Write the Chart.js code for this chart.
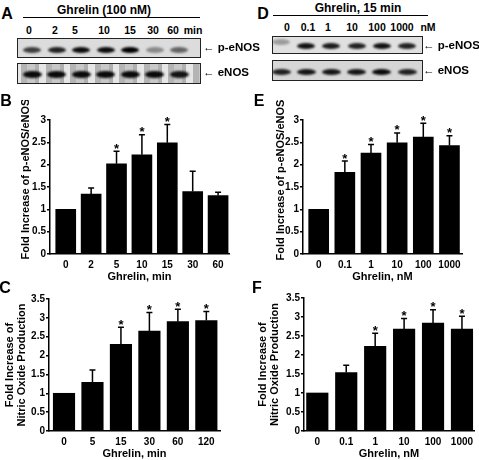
<!DOCTYPE html>
<html><head><meta charset="utf-8">
<script src="https://cdn.jsdelivr.net/npm/chart.js@4/dist/chart.umd.min.js"></script>
<style>
html,body{margin:0;padding:0;background:#fff;}
body{width:479px;height:460px;position:relative;overflow:hidden;font-family:"Liberation Sans",Arial,sans-serif;font-weight:bold;color:#000;}
.t{position:absolute;white-space:nowrap;transform:translate(-50%,-50%);line-height:1;}
.tl{position:absolute;white-space:nowrap;transform:translate(0,-50%);line-height:1;}
canvas{position:absolute;}
</style>
</head><body>
<canvas id="cB" width="240" height="183" style="left:0px;top:100px"></canvas>
<canvas id="cE" width="221" height="183" style="left:258px;top:100px"></canvas>
<canvas id="cC" width="240" height="177" style="left:0px;top:283px"></canvas>
<canvas id="cF" width="226" height="177" style="left:253px;top:283px"></canvas>
<script>
// ---------- data ----------
const timeCatsB = ['0','2','5','10','15','30','60'];
const pEnosTimeMean = [1.00, 1.34, 2.02, 2.22, 2.49, 1.40, 1.31];
const pEnosTimeSem  = [0.00, 0.14, 0.28, 0.45, 0.41, 0.45, 0.07];
const pEnosTimeSig  = [false, false, true, true, true, false, false];

const doseCats = ['0','0.1','1','10','100','1000'];
const pEnosDoseMean = [1.00, 1.83, 2.26, 2.49, 2.62, 2.43];
const pEnosDoseSem  = [0.00, 0.25, 0.19, 0.22, 0.31, 0.22];
const pEnosDoseSig  = [false, true, true, true, true, true];

const timeCatsC = ['0','5','15','30','60','120'];
const noTimeMean = [1.00, 1.29, 2.30, 2.65, 2.90, 2.93];
const noTimeSem  = [0.00, 0.33, 0.45, 0.49, 0.33, 0.24];
const noTimeSig  = [false, false, true, true, true, true];

const noDoseMean = [1.00, 1.54, 2.23, 2.68, 2.84, 2.68];
const noDoseSem  = [0.00, 0.19, 0.34, 0.28, 0.35, 0.34];
const noDoseSig  = [false, false, true, true, true, true];

const yTicksPE = [0, 0.5, 1, 1.5, 2, 2.5, 3];
const yTicksNO = [0, 0.5, 1, 1.5, 2, 2.5, 3, 3.5];

// blot band intensities (image texture)
const blotA_p = [0.72, 0.85, 0.95, 0.95, 1.0, 0.38, 0.55];
const blotA_e = [0.95, 0.95, 0.95, 0.95, 0.95, 0.95, 0.9];
const blotD_p = [0.3, 0.92, 0.88, 0.85, 0.92, 0.85];
const blotD_e = [0.85, 0.9, 0.9, 0.9, 0.95, 0.85];
const laneLabelsA = ['0','2','5','10','15','30','60','min'];
const laneLabelsD = ['0','0.1','1','10','100','1000','nM'];

// ---------- text / blots ----------
function txt(cls, x, y, s, size){
  const d=document.createElement('div'); d.className=cls;
  d.style.left=x+'px'; d.style.top=y+'px'; d.style.fontSize=size+'px'; d.textContent=s;
  document.body.appendChild(d);
}
function line(x1,x2,y){
  const d=document.createElement('div');
  d.style.cssText=`position:absolute;left:${x1}px;top:${y}px;width:${x2-x1}px;height:1px;background:#000`;
  document.body.appendChild(d);
}
function blot(left, top, w, h, bg, centers, bandY, bandW, bandH, alphas){
  const d=document.createElement('div');
  d.style.cssText=`position:absolute;left:${left}px;top:${top}px;width:${w}px;height:${h}px;background:${bg};border:1.5px solid #222;box-sizing:border-box;overflow:hidden`;
  centers.forEach((c,i)=>{
    const e=document.createElement('div');
    const by = Array.isArray(bandY)? bandY[i] : bandY;
    e.style.cssText=`position:absolute;left:${c-bandW/2-left}px;top:${by-bandH/2-top}px;width:${bandW}px;height:${bandH}px;background:rgba(0,0,0,${alphas[i]});border-radius:50%;filter:blur(0.8px)`;
    d.appendChild(e);
  });
  document.body.appendChild(d);
}
// panel letters
txt('t',7,14,'A',16); txt('t',263,14,'D',16);
txt('t',6,101,'B',16); txt('t',259,101,'E',16);
txt('t',5,288,'C',16); txt('t',257,288,'F',16);
// headers
txt('t',104,10,'Ghrelin (100 nM)',12); line(23,200,17);
txt('t',358,8,'Ghrelin, 15 min',12); line(273,428,15);
const laneXA=[29,55,75,104,130,153,173,193];
laneLabelsA.forEach((s,i)=>txt('t',laneXA[i],30,s,10.5));
const laneXD=[287,308,328,352,377,402,428];
laneLabelsD.forEach((s,i)=>txt('t',laneXD[i],27,s,10.5));
// blots
const centersA = blotA_p.map((_,i)=>31+i*24.5);
blot(17,38,184,20,'#dcdcdc',centersA,48.5,18,6,blotA_p);
blot(17,63,184,21,'repeating-linear-gradient(90deg,#e6e6e6 0 3px,#b4b4b4 3px 9px,#c8c8c8 9px 17px,#b0b0b0 17px 21px,#e6e6e6 21px 24.5px)',centersA,73.5,19,7,blotA_e);
const centersD = blotD_p.map((_,i)=>280+i*25.2);
blot(272,36,151,18,'#e0e0e0',centersD,[41,44.5,44.5,44.5,44.5,44.5],18,6,blotD_p);
blot(272,60,151,21,'#d6d6d6',centersD,70.5,19,6,blotD_e);
txt('tl',203,48,'\u2190 p-eNOS',11.5); txt('tl',203,73,'\u2190 eNOS',11.5);
txt('tl',423,46,'\u2190 p-eNOS',11.5); txt('tl',423,71,'\u2190 eNOS',11.5);

// ---------- charts ----------
const FONT = '"Liberation Sans", Arial, sans-serif';
const errPlugin = {
  id:'errbars',
  afterDatasetsDraw(chart, args, o){
    const ctx=chart.ctx, ys=chart.scales.y, meta=chart.getDatasetMeta(0);
    const ds=chart.data.datasets[0];
    ctx.save();
    ctx.strokeStyle='#000'; ctx.fillStyle='#000'; ctx.lineWidth=1.5;
    ds.data.forEach((d,i)=>{
      const x=meta.data[i].x;
      const top=ys.getPixelForValue(d.y+o.sem[i]);
      const base=ys.getPixelForValue(d.y);
      if(o.sem[i]>0){
        ctx.beginPath(); ctx.moveTo(x,base); ctx.lineTo(x,top);
        ctx.moveTo(x-3,top); ctx.lineTo(x+3,top); ctx.stroke();
      }
      if(o.sig[i]){
        ctx.font='bold 13px '+FONT; ctx.textAlign='center'; ctx.textBaseline='alphabetic';
        ctx.fillText('*', x, top+1.5);
      }
    });
    ctx.restore();
  }
};
// shifts the y-axis title along the axis (reference titles sit a bit higher)
const titleShift = {
  id:'tshift',
  afterLayout(chart, args, o){
    const s=chart.scales.y;
    if(!o.dy || s._tshift) return;
    const orig=s.drawTitle;
    s.drawTitle=function(){ const t=this.top,b=this.bottom; this.top-=o.dy; this.bottom-=o.dy; orig.call(this); this.top=t; this.bottom=b; };
    s._tshift=true;
  }
};

function makeChart(id, g, cats, means, sem, sig, yTicks, yTitle, xTitle){
  new Chart(document.getElementById(id), {
    type:'bar',
    data:{datasets:[{data:means.map((v,i)=>({x:i,y:v})), backgroundColor:'#000', borderWidth:0, barThickness:g.barW}]},
    plugins:[errPlugin, titleShift],
    options:{
      responsive:false, animation:false, devicePixelRatio:1,
      layout:{padding:{left:0,top:g.padTop,right:g.padRight,bottom:0}},
      plugins:{legend:{display:false}, tooltip:{enabled:false}, errbars:{sem, sig}, tshift:{dy:g.titleDy||0}},
      scales:{
        x:{type:'linear', min:g.xMin, max:g.xMax, offset:false,
          grid:{display:false, drawTicks:false},
          border:{display:true, color:'#000', width:1.5},
          afterBuildTicks:s=>{ s.ticks = cats.map((c,i)=>({value:i})); },
          afterFit:s=>{ s.height = g.xH; },
          ticks:{autoSkip:false, maxRotation:0, minRotation:0, padding:5, color:'#000',
            font:{family:FONT,size:10,weight:'bold'}, callback:v=>cats[v] ?? ''},
          title:{display:true, text:xTitle, color:'#000', padding:{top:0,bottom:0},
            font:{family:FONT,size:11,weight:'bold',lineHeight:1.1}}
        },
        y:{min:0, max:yTicks[yTicks.length-1],
          afterBuildTicks:s=>{ s.ticks = yTicks.map(v=>({value:v})); },
          afterFit:s=>{ s.width = g.yW; },
          grid:{drawOnChartArea:false, drawTicks:true, tickLength:3, color:'#000', lineWidth:1.5},
          border:{display:true, color:'#000', width:1.5},
          ticks:{padding:1, color:'#000', font:{family:FONT,size:10,weight:'bold'}, callback:v=>String(v)},
          title:{display:true, text:yTitle, color:'#000', padding:{top:g.titlePad,bottom:0},
            font:{family:FONT,size:11,weight:'bold',lineHeight:1.1}}
        }
      }
    }
  });
}

makeChart('cB', {padTop:20, padRight:11, yW:50, xH:29, xMin:-0.62, xMax:6.43, barW:20, titlePad:20, titleDy:8},
  timeCatsB, pEnosTimeMean, pEnosTimeSem, pEnosTimeSig, yTicksPE, 'Fold Increase of p-eNOS/eNOS', 'Ghrelin, min');
makeChart('cE', {padTop:20, padRight:17, yW:45, xH:29, xMin:-0.6, xMax:5.48, barW:20, titlePad:17, titleDy:7},
  doseCats, pEnosDoseMean, pEnosDoseSem, pEnosDoseSig, yTicksPE, 'Fold Increase of p-eNOS/eNOS', 'Ghrelin, nM');
makeChart('cC', {padTop:16, padRight:20, yW:49, xH:29, xMin:-0.527, xMax:5.48, barW:21.5, titlePad:4},
  timeCatsC, noTimeMean, noTimeSem, noTimeSig, yTicksNO, ['Fold Increase of','Nitric Oxide Production'], 'Ghrelin, min');
makeChart('cF', {padTop:15, padRight:5, yW:51, xH:29, xMin:-0.46, xMax:5.416, barW:21.5, titlePad:4},
  doseCats, noDoseMean, noDoseSem, noDoseSig, yTicksNO, ['Fold Increase of','Nitric Oxide Production'], 'Ghrelin, nM');
</script>
</body></html>
